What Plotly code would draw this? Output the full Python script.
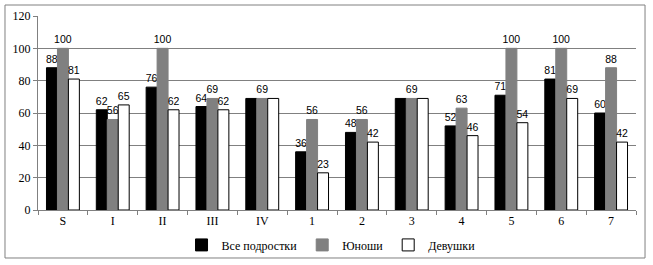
import plotly.graph_objects as go

categories = ["S", "I", "II", "III", "IV", "1", "2", "3", "4", "5", "6", "7"]
all_teens = [88, 62, 76, 64, 69, 36, 48, 69, 52, 71, 81, 60]
boys = [100, 56, 100, 69, 69, 56, 56, 69, 63, 100, 100, 88]
girls = [81, 65, 62, 62, 69, 23, 42, 69, 46, 54, 69, 42]
hidden_label_cats = ["IV", "3"]

def labels(vals, hide):
    return ["" if (hide and c in hidden_label_cats) else str(v) for c, v in zip(categories, vals)]

lab_font = dict(family="Liberation Sans", size=10.5, color="black")
serif = "Liberation Serif"

fig = go.Figure()
fig.add_trace(go.Bar(name="Все подростки", x=categories, y=all_teens,
                     marker=dict(color="black", line=dict(color="black", width=1)),
                     text=labels(all_teens, True), textposition="outside",
                     textfont=lab_font, outsidetextfont=lab_font,
                     constraintext="none", cliponaxis=False, hoverinfo="skip"))
fig.add_trace(go.Bar(name="Юноши", x=categories, y=boys,
                     marker=dict(color="#808080", line=dict(color="#808080", width=1)),
                     text=labels(boys, False), textposition="outside",
                     textfont=lab_font, outsidetextfont=lab_font,
                     constraintext="none", cliponaxis=False, hoverinfo="skip"))
fig.add_trace(go.Bar(name="Девушки", x=categories, y=girls,
                     marker=dict(color="white", line=dict(color="black", width=1)),
                     text=labels(girls, True), textposition="outside",
                     textfont=lab_font, outsidetextfont=lab_font,
                     constraintext="none", cliponaxis=False, hoverinfo="skip"))

fig.update_layout(
    width=653, height=265,
    margin=dict(l=38, r=17, t=16, b=55, autoexpand=False),
    paper_bgcolor="white", plot_bgcolor="white",
    barmode="group", bargap=0.34, bargroupgap=0,
    font=dict(family=serif, size=12, color="black"),
    showlegend=True,
    legend=dict(orientation="h", x=0.49, xanchor="center", y=-0.18, yanchor="middle",
                font=dict(family=serif, size=12, color="black"),
                itemwidth=30, traceorder="normal", bgcolor="rgba(0,0,0,0)"),
)
fig.update_xaxes(showline=True, linecolor="#808080", linewidth=1,
                 ticks="outside", tickson="boundaries", ticklen=4, tickcolor="#808080",
                 showgrid=False, tickfont=dict(family=serif, size=12))
fig.update_yaxes(range=[0, 120], dtick=20, showline=True, linecolor="#808080", linewidth=1,
                 ticks="outside", ticklen=4, tickcolor="#808080",
                 showgrid=True, gridcolor="#808080", gridwidth=1, zeroline=False,
                 tickfont=dict(family=serif, size=12))
fig.add_shape(type="rect", xref="paper", yref="paper",
              x0=-0.0552, x1=1.0151, y0=-0.2474, y1=1.0567,
              line=dict(color="#808080", width=1), fillcolor="rgba(0,0,0,0)")

fig.write_html("out.html", config={"displayModeBar": False},
               post_script="document.body.style.margin='0';document.body.style.padding='0';")
